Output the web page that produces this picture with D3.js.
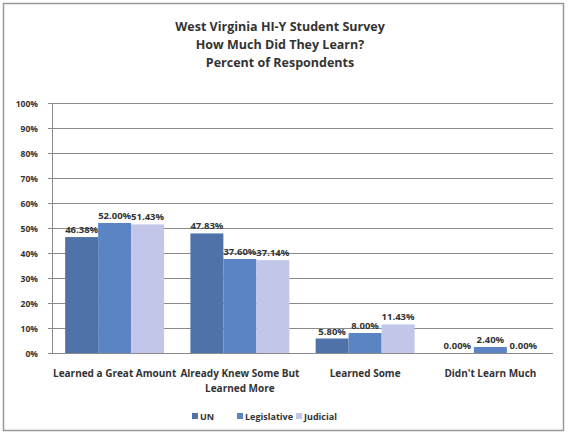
<!DOCTYPE html>
<html><head><meta charset="utf-8">
<script src="https://cdn.jsdelivr.net/npm/d3@7"></script>
<style>body{margin:0;background:#fff}svg{display:block}text{font-family:"Open Sans","DejaVu Sans",sans-serif;fill:#333}</style>
</head><body><svg id="c" width="568" height="436"></svg>
<script>
const categories = [["Learned a Great Amount"], ["Already Knew Some But", "Learned More"], ["Learned Some"], ["Didn't Learn Much"]];
const seriesNames = ["UN", "Legislative", "Judicial"];
const UN = [46.38, 47.83, 5.80, 0.00];
const Legislative = [52.00, 37.60, 8.00, 2.40];
const Judicial = [51.43, 37.14, 11.43, 0.00];
const yTicks = [0, 10, 20, 30, 40, 50, 60, 70, 80, 90, 100];
const titleLines = ["West Virginia HI-Y Student Survey", "How Much Did They Learn?", "Percent of Respondents"];
const colors = ["#4f73a8", "#5a84c4", "#c2c7ea"];
const series = [UN, Legislative, Judicial];

const svg = d3.select("#c");
svg.append("rect").attr("x", 3.5).attr("y", 3.5).attr("width", 560).attr("height", 427)
  .attr("fill", "#fff").attr("stroke", "#999").attr("stroke-width", 1.5);

svg.selectAll("text.title").data(titleLines).join("text")
  .attr("x", 280).attr("y", (d, i) => 31 + i * 18)
  .attr("text-anchor", "middle").attr("font-size", 12.5).attr("font-weight", "bold")
  .text(d => d);

const y = d3.scaleLinear().domain([0, 100]).range([353, 103]);
const x0 = d3.scaleBand().domain(d3.range(categories.length)).range([52, 553]).paddingInner(0.21).paddingOuter(0.105);
const x1 = d3.scaleBand().domain(d3.range(seriesNames.length)).range([0, x0.bandwidth()]);

const g = svg.append("g");
g.selectAll("line.grid").data(yTicks).join("line")
  .attr("x1", 48).attr("x2", 553).attr("y1", d => Math.round(y(d)) + 0.5).attr("y2", d => Math.round(y(d)) + 0.5)
  .attr("stroke", "#8a8a8a").attr("stroke-width", 1);
g.append("line").attr("x1", 52.5).attr("x2", 52.5).attr("y1", 103).attr("y2", 353).attr("stroke", "#8a8a8a");

g.selectAll("text.ytick").data(yTicks).join("text")
  .attr("x", 38).attr("y", d => y(d) + 3.5).attr("text-anchor", "end")
  .attr("font-size", 8.5).attr("font-weight", "bold").text(d => d + "%");

series.forEach((vals, si) => {
  const gs = svg.append("g");
  gs.selectAll("rect").data(vals).join("rect")
    .attr("x", (d, i) => x0(i) + x1(si)).attr("width", x1.bandwidth())
    .attr("y", d => y(d)).attr("height", d => y(0) - y(d)).attr("fill", colors[si]);
  gs.selectAll("text").data(vals).join("text")
    .attr("x", (d, i) => x0(i) + x1(si) + x1.bandwidth() / 2)
    .attr("y", d => y(d) - 4).attr("text-anchor", "middle")
    .attr("font-size", 9.5).attr("font-weight", "bold").text(d => d.toFixed(2) + "%");
});

categories.forEach((lines, i) => {
  svg.append("text").attr("x", x0(i) + x0.bandwidth() / 2).attr("y", 377)
    .attr("text-anchor", "middle").attr("font-size", 10).attr("font-weight", "bold")
    .selectAll("tspan").data(lines).join("tspan")
    .attr("x", x0(i) + x0.bandwidth() / 2).attr("dy", (d, j) => j ? 15 : 0).text(d => d);
});

const legX = [192, 237, 296];
seriesNames.forEach((n, i) => {
  svg.append("rect").attr("x", legX[i]).attr("y", 413).attr("width", 6).attr("height", 6).attr("fill", colors[i]);
  svg.append("text").attr("x", legX[i] + 8).attr("y", 419.5).attr("font-size", 9).attr("font-weight", "bold").text(n);
});
</script></body></html>
